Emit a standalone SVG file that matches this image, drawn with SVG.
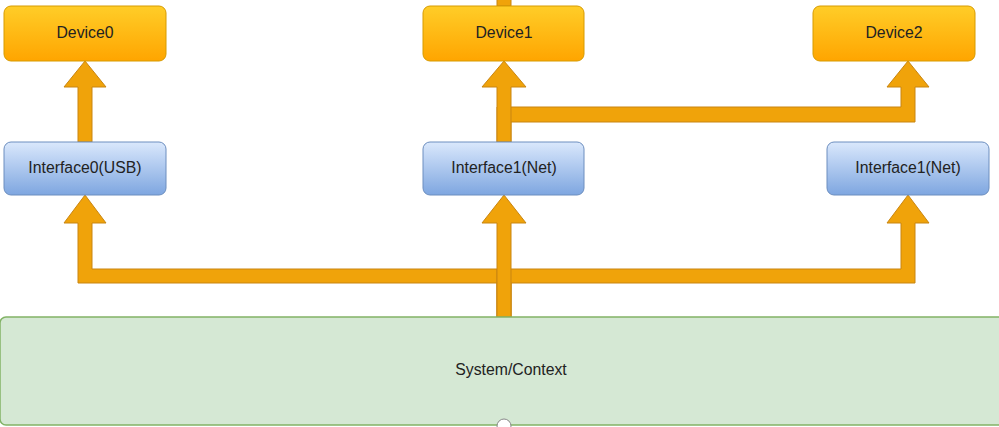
<svg xmlns="http://www.w3.org/2000/svg" width="999" height="427" viewBox="0 0 999 427">
  <defs>
    <linearGradient id="gOrange" x1="0" y1="0" x2="0" y2="1">
      <stop offset="0" stop-color="#ffcd28"/>
      <stop offset="1" stop-color="#ffa500"/>
    </linearGradient>
    <linearGradient id="gBlue" x1="0" y1="0" x2="0" y2="1">
      <stop offset="0" stop-color="#dae8fc"/>
      <stop offset="1" stop-color="#7ea6e0"/>
    </linearGradient>
  </defs>
  <style>
    .dev { fill: url(#gOrange); stroke: #d79b00; stroke-width: 1; }
    .itf { fill: url(#gBlue); stroke: #6c8ebf; stroke-width: 1; }
    .sys { fill: #d5e8d4; stroke: #82b366; stroke-width: 1.5; }
    .arr { fill: #f0a30a; stroke: #c98510; stroke-width: 1; stroke-linejoin: miter; }
    text { font-family: "Liberation Sans", Arial, sans-serif; font-size: 15.8px; fill: #222; text-anchor: middle; }
  </style>
  <rect width="999" height="427" fill="#ffffff"/>

  <g id="connectors">
    <rect class="arr" x="497" y="-2" width="14" height="8"/>
    <polygon class="arr" points="78,142 78,87 64,87 85,61 106,87 92,87 92,142"/>
    <polygon class="arr" points="497,142 497,107 901,107 901,87 887,87 908,61 929,87 915,87 915,122 511,122 511,142"/>
    <polygon class="arr" points="497,142 497,87 482,87 504,61 526,87 511,87 511,142"/>
    <polygon class="arr" points="511,317 511,269 92,269 92,223 106,223 85,195 64,223 78,223 78,283 497,283 497,317"/>
    <polygon class="arr" points="497,317 497,269 901,269 901,223 887,223 908,195 929,223 915,223 915,283 511,283 511,317"/>
    <polygon class="arr" points="497,317 497,223 482,223 504,195 526,223 511,223 511,317"/>
  </g>

  <g id="device0">
    <rect class="dev" x="4" y="6" width="162" height="55" rx="7"/>
    <text x="85" y="37.5">Device0</text>
  </g>
  <g id="device1">
    <rect class="dev" x="423" y="6" width="161" height="55" rx="7"/>
    <text x="504" y="37.5">Device1</text>
  </g>
  <g id="device2">
    <rect class="dev" x="813" y="6" width="162" height="55" rx="7"/>
    <text x="894" y="37.5">Device2</text>
  </g>
  <g id="interface0">
    <rect class="itf" x="4" y="142" width="162" height="53" rx="7"/>
    <text x="85" y="172.5">Interface0(USB)</text>
  </g>
  <g id="interface1">
    <rect class="itf" x="423" y="142" width="161" height="53" rx="7"/>
    <text x="504" y="172.5">Interface1(Net)</text>
  </g>
  <g id="interface2">
    <rect class="itf" x="827" y="142" width="162" height="53" rx="7"/>
    <text x="908" y="172.5">Interface1(Net)</text>
  </g>
  <g id="system">
    <rect class="sys" x="0" y="317" width="1022" height="108" rx="6"/>
    <text x="511" y="374.5">System/Context</text>
    <circle cx="504" cy="426" r="7" fill="#ffffff" stroke="#888888" stroke-width="1"/>
  </g>
</svg>
